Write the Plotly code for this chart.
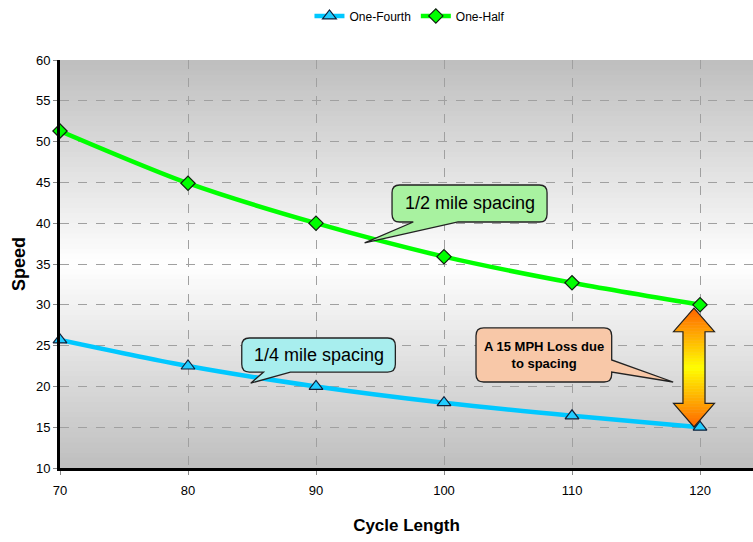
import plotly.graph_objects as go

cycle_length = [70, 80, 90, 100, 110, 120]
one_fourth = [25.7, 22.5, 20.0, 18.0, 16.4, 15.0]
one_half = [51.3, 44.9, 40.0, 35.9, 32.7, 30.0]
x_ticks = [70, 80, 90, 100, 110, 120]
y_ticks = [10, 15, 20, 25, 30, 35, 40, 45, 50, 55, 60]

FONT = "Liberation Sans, Arial"

fig = go.Figure()
fig.add_trace(go.Scatter(
    x=cycle_length, y=one_fourth, name="One-Fourth", mode="lines+markers",
    line=dict(color="#00C8FF", width=4.5, shape="spline", smoothing=0.8),
    marker=dict(symbol="triangle-up", size=12, color="#22CCFF",
                line=dict(color="#10203A", width=1.2)),
    cliponaxis=False))
fig.add_trace(go.Scatter(
    x=cycle_length, y=one_half, name="One-Half", mode="lines+markers",
    line=dict(color="#00FF00", width=4.5, shape="spline", smoothing=0.8),
    marker=dict(symbol="diamond", size=11, color="#00FF00",
                line=dict(color="#102010", width=1.2)),
    cliponaxis=False))

shapes = []
# gradient background (gray -> white -> gray)
N = 80
for i in range(N):
    t = (i + 0.5) / N
    d = abs(t - 0.5) * 2
    v = int(round(255 - 65 * d))
    c = f"rgb({v},{v},{v})"
    shapes.append(dict(type="rect", xref="paper", yref="paper",
                       x0=0, x1=1, y0=i / N, y1=min(1.0, (i + 1.6) / N),
                       fillcolor=c, line=dict(width=0), layer="below"))


def callout_bottom(x0, x1, y0, y1, tb0, tb1, tip, rx=0.6, ry=0.95):
    return (f"M {x0+rx},{y1} L {x1-rx},{y1} Q {x1},{y1} {x1},{y1-ry} "
            f"L {x1},{y0+ry} Q {x1},{y0} {x1-rx},{y0} L {tb1},{y0} "
            f"L {tip[0]},{tip[1]} L {tb0},{y0} L {x0+rx},{y0} "
            f"Q {x0},{y0} {x0},{y0+ry} L {x0},{y1-ry} Q {x0},{y1} {x0+rx},{y1} Z")


def callout_right(x0, x1, y0, y1, ta, tb, tip, rx=0.6, ry=0.95):
    return (f"M {x0+rx},{y1} L {x1-rx},{y1} Q {x1},{y1} {x1},{y1-ry} "
            f"L {x1},{ta} L {tip[0]},{tip[1]} L {x1},{tb} "
            f"L {x1},{y0+ry} Q {x1},{y0} {x1-rx},{y0} L {x0+rx},{y0} "
            f"Q {x0},{y0} {x0},{y0+ry} L {x0},{y1-ry} Q {x0},{y1} {x0+rx},{y1} Z")


shapes.append(dict(type="path", xref="x", yref="y",
                   path=callout_bottom(95.94, 108.05, 40.15, 44.68, 97.6, 101.1, (93.8, 37.6)),
                   fillcolor="#A8F2A0", line=dict(color="#222222", width=1.3), layer="above"))
shapes.append(dict(type="path", xref="x", yref="y",
                   path=callout_bottom(84.2, 96.2, 21.76, 25.93, 85.9, 88.0, (84.9, 20.4)),
                   fillcolor="#A8EEEE", line=dict(color="#222222", width=1.3), layer="above"))
shapes.append(dict(type="path", xref="x", yref="y",
                   path=callout_right(102.5, 113.1, 20.54, 27.16, 23.24, 21.76, (117.9, 20.54)),
                   fillcolor="#F8C8A8", line=dict(color="#222222", width=1.3), layer="above"))

# double-headed gradient arrow
ax, yb, yt = 119.53, 15.03, 29.6
hw, sw, hh = 1.6, 0.86, 2.9


def width_at(y):
    if y <= yb + hh:
        return hw * (y - yb) / hh
    if y >= yt - hh:
        return hw * (yt - y) / hh
    return sw


def grad_color(y):
    t = (y - yb) / (yt - yb)
    d = min(1.0, abs(t - 0.5) * 2)
    g = int(round(255 - (255 - 100) * d))
    return f"rgb(255,{g},0)"


segs = [(yb, yb + hh, 8), (yb + hh, yt - hh, 24), (yt - hh, yt, 8)]
for s0, s1, n in segs:
    for k in range(n):
        a = s0 + (s1 - s0) * k / n
        b = s0 + (s1 - s0) * (k + 1) / n
        eps = 1e-6
        wa = width_at(a + eps) if k == 0 else width_at(a)
        wb = width_at(b - eps) if k == n - 1 else width_at(b)
        col = grad_color((a + b) / 2)
        shapes.append(dict(type="path", xref="x", yref="y",
                           path=f"M {ax-wa},{a} L {ax+wa},{a} L {ax+wb},{b} L {ax-wb},{b} Z",
                           fillcolor=col, line=dict(color=col, width=0.6), layer="above"))
outline = (f"M {ax-sw},{yb+hh} L {ax-hw},{yb+hh} L {ax},{yb} L {ax+hw},{yb+hh} "
           f"L {ax+sw},{yb+hh} L {ax+sw},{yt-hh} L {ax+hw},{yt-hh} L {ax},{yt} "
           f"L {ax-hw},{yt-hh} L {ax-sw},{yt-hh} Z")
shapes.append(dict(type="path", xref="x", yref="y", path=outline,
                   line=dict(color="#222222", width=1.2), layer="above"))

annotations = [
    dict(x=102.0, y=42.45, xref="x", yref="y", text="1/2 mile spacing", showarrow=False,
         font=dict(family=FONT, size=18, color="#000000")),
    dict(x=90.2, y=23.85, xref="x", yref="y", text="1/4 mile spacing", showarrow=False,
         font=dict(family=FONT, size=18, color="#000000")),
    dict(x=107.8, y=23.85, xref="x", yref="y", text="<b>A 15 MPH Loss due<br>to spacing</b>",
         showarrow=False, font=dict(family=FONT, size=13, color="#000000")),
]

fig.update_layout(
    width=753, height=542,
    margin=dict(l=60, r=0, t=60, b=74),
    paper_bgcolor="white", plot_bgcolor="white",
    shapes=shapes, annotations=annotations,
    showlegend=True,
    legend=dict(orientation="h", x=0.505, y=1.108, xanchor="center", yanchor="middle",
                font=dict(family=FONT, size=12, color="#000000"),
                itemwidth=30, tracegroupgap=0, bgcolor="rgba(0,0,0,0)"),
    xaxis=dict(range=[70, 124.14], tickvals=x_ticks, ticktext=[str(v) for v in x_ticks],
               showgrid=True, gridcolor="#A0A0A0", griddash="dash", gridwidth=1,
               showline=True, linecolor="#000000", linewidth=3,
               ticks="outside", ticklen=4, tickcolor="#888888",
               ticklabelstandoff=4, zeroline=False,
               tickfont=dict(family=FONT, size=13, color="#000000"),
               title=dict(text="<b>Cycle Length</b>", standoff=23,
                          font=dict(family=FONT, size=17, color="#000000"))),
    yaxis=dict(range=[10, 60], tickvals=y_ticks,
               showgrid=True, gridcolor="#A0A0A0", griddash="dash", gridwidth=1,
               showline=True, linecolor="#000000", linewidth=3,
               ticks="outside", ticklen=4, tickcolor="#888888", zeroline=False,
               tickfont=dict(family=FONT, size=13, color="#000000"),
               title=dict(text="<b>Speed</b>", standoff=6,
                          font=dict(family=FONT, size=18, color="#000000"))),
)

fig.write_html("out.html")
